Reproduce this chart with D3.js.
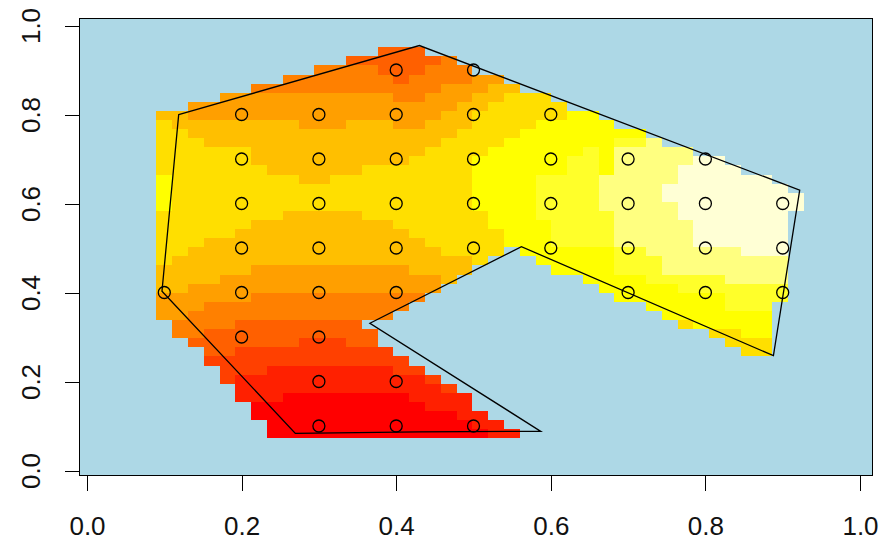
<!DOCTYPE html>
<html>
<head>
<meta charset="utf-8">
<script src="https://cdn.jsdelivr.net/npm/d3@7/dist/d3.min.js"></script>
<style>
  html, body { margin: 0; padding: 0; background: #fff; }
  svg { display: block; }
</style>
</head>
<body>
<div id="chart"></div>
<script>
// interpolated surface, one entry per grid row from the top: [first column, level codes]
// level codes 0..9, a, b index heatColors; "." = cell left out by the mask
const rasterRows = [
  [14, "333"],
  [12, "3333334"],
  [10, "4444333444"],
  [8, "44444443444455"],
  [6, "44444444444455566"],
  [4, "555555555554455566777"],
  [2, "555555555555555556677777"],
  [0, "6655555555555555556677777788"],
  [0, "76666666655566655666777788888"],
  [0, "7766666666666666666777788888888"],
  [0, "7776666666666666667777888888899a"],
  [0, "77777766666666666777788888898aaaaa"],
  [0, "77777766666666667777888888998aaaaabb"],
  [0, "77777776666667777777888888998aaaabbbb"],
  [0, "8777777776677777777788889999aaaaabbbbbb"],
  [0, "8777777777777777777788889999aaaabbbbbbbb"],
  [0, "8777777777777777777788889999aaaabbbbbbbbb"],
  [0, "8777777777777777777788889999aaaaabbbbbbbb"],
  [0, "77777777666667777777788899999aaaabbbbbbb"],
  [0, "77777766666666677777788889999aaaaabbbbbb"],
  [0, "77777666666666667777778889999aaaaabbbbbb"],
  [0, "77766666666666666777778889999aaaaabbbbbb"],
  [0, "7766666666666666667777.88888899aaaaaabbb"],
  [0, "766666666666666666667...88888999aaaaaaaa"],
  [0, "66666655555555556666.....8888999aaaaaaaa"],
  [0, "6666555555555555556........888899999aaaa"],
  [0, "665555555555555555..........888889999999"],
  [0, "55555544444444444............88888889999"],
  [0, "5554444444444444...............88888999"],
  [0, "554444444444444.................8888888"],
  [1, "444433333333....................788888"],
  [1, "4433333333333.....................7788"],
  [2, "333333322233......................777"],
  [3, "332222222222......................77"],
  [3, "2222222222222"],
  [4, "2221111111122"],
  [4, "21111111111112"],
  [5, "11111111111112"],
  [5, "111000000001111"],
  [6, "00000000000111"],
  [6, "000000000000011"],
  [7, "000000000000011"],
  [7, "0000000000000011"]
];
const gridLeft = 0.0899;
const gridTop = 0.951;
const cellSize = 0.02043;

const heatLevels = ["0", "1", "2", "3", "4", "5", "6", "7", "8", "9", "a", "b"];
const heatColors = ["#FF0000", "#FF2000", "#FF4000", "#FF6000", "#FF8000", "#FF9F00",
                    "#FFBF00", "#FFDF00", "#FFFF00", "#FFFF2A", "#FFFF80", "#FFFFD5"];

// study area outline
const boundaryX = [0.1186, 0.43, 0.922, 0.888, 0.562, 0.366, 0.587, 0.43, 0.2695, 0.097];
const boundaryY = [0.7996, 0.955, 0.63, 0.258, 0.503, 0.331, 0.088, 0.087, 0.0835, 0.403];

// sample locations
const pointX = [
  0.4, 0.5,
  0.2, 0.3, 0.4, 0.5, 0.6,
  0.2, 0.3, 0.4, 0.5, 0.6, 0.7, 0.8,
  0.2, 0.3, 0.4, 0.5, 0.6, 0.7, 0.8, 0.9,
  0.2, 0.3, 0.4, 0.5, 0.6, 0.7, 0.8, 0.9,
  0.1, 0.2, 0.3, 0.4, 0.7, 0.8, 0.9,
  0.2, 0.3,
  0.3, 0.4,
  0.3, 0.4, 0.5
];
const pointY = [
  0.9, 0.9,
  0.8, 0.8, 0.8, 0.8, 0.8,
  0.7, 0.7, 0.7, 0.7, 0.7, 0.7, 0.7,
  0.6, 0.6, 0.6, 0.6, 0.6, 0.6, 0.6, 0.6,
  0.5, 0.5, 0.5, 0.5, 0.5, 0.5, 0.5, 0.5,
  0.4, 0.4, 0.4, 0.4, 0.4, 0.4, 0.4,
  0.3, 0.3,
  0.2, 0.2,
  0.1, 0.1, 0.1
];

const tickValues = [0, 0.2, 0.4, 0.6, 0.8, 1.0];
const tickLabels = ["0.0", "0.2", "0.4", "0.6", "0.8", "1.0"];

const width = 891, height = 541;
const frame = { left: 79.5, right: 872.5, top: 18.5, bottom: 475.5 };
const labelFont = "'Liberation Sans', Arial, Helvetica, sans-serif";

const x = d3.scaleLinear().domain([0, 1]).range([87, 860]);
const y = d3.scaleLinear().domain([0, 1]).range([470.5, 25.5]);
const fill = d3.scaleOrdinal().domain(heatLevels).range(heatColors);

const svg = d3.select("#chart")
  .append("svg")
  .attr("width", width)
  .attr("height", height);

// plot region background
svg.append("rect")
  .attr("x", frame.left)
  .attr("y", frame.top)
  .attr("width", frame.right - frame.left)
  .attr("height", frame.bottom - frame.top)
  .attr("fill", "#ADD8E6");

const cells = [];
rasterRows.forEach(([start, codes], r) => {
  codes.split("").forEach((c, i) => {
    if (c === ".") return;
    const x0 = gridLeft + (start + i) * cellSize;
    const yTop = gridTop - r * cellSize;
    cells.push({ x0: x0, x1: x0 + cellSize, y0: yTop - cellSize, y1: yTop, level: c });
  });
});

svg.append("g")
  .attr("shape-rendering", "crispEdges")
  .selectAll("rect")
  .data(cells)
  .join("rect")
  .attr("x", d => Math.round(x(d.x0)))
  .attr("y", d => Math.round(y(d.y1)))
  .attr("width", d => Math.round(x(d.x1)) - Math.round(x(d.x0)))
  .attr("height", d => Math.round(y(d.y0)) - Math.round(y(d.y1)))
  .attr("fill", d => fill(d.level));

const boundary = boundaryX.map((bx, i) => [bx, boundaryY[i]]);
svg.append("path")
  .attr("d", d3.line().x(d => x(d[0])).y(d => y(d[1]))(boundary) + "Z")
  .attr("fill", "none")
  .attr("stroke", "#000")
  .attr("stroke-width", 1.3)
  .attr("stroke-linejoin", "miter");

svg.append("g")
  .selectAll("circle")
  .data(pointX.map((px, i) => [px, pointY[i]]))
  .join("circle")
  .attr("cx", d => x(d[0]))
  .attr("cy", d => y(d[1]))
  .attr("r", 6)
  .attr("fill", "none")
  .attr("stroke", "#000")
  .attr("stroke-width", 1.3);

// axes
const xAxis = svg.append("g")
  .attr("transform", `translate(0,${frame.bottom})`)
  .call(d3.axisBottom(x).tickValues(tickValues).tickFormat((d, i) => tickLabels[i]).tickSize(15))
  .attr("color", "#000")
  .attr("shape-rendering", "crispEdges");
xAxis.select(".domain").remove();
xAxis.selectAll("text")
  .attr("y", 59.5)
  .attr("dy", null)
  .attr("font-family", labelFont)
  .attr("font-size", 26)
  .attr("fill", "#111");

const yAxis = svg.append("g")
  .attr("transform", `translate(${frame.left},0)`)
  .call(d3.axisLeft(y).tickValues(tickValues).tickFormat((d, i) => tickLabels[i]).tickSize(15))
  .attr("color", "#000")
  .attr("shape-rendering", "crispEdges");
yAxis.select(".domain").remove();
yAxis.selectAll("text")
  .attr("x", null)
  .attr("dy", null)
  .attr("text-anchor", "middle")
  .attr("transform", "translate(-39.5,0) rotate(-90)")
  .attr("font-family", labelFont)
  .attr("font-size", 26)
  .attr("fill", "#111");

// box round the plot region
svg.append("rect")
  .attr("x", frame.left)
  .attr("y", frame.top)
  .attr("width", frame.right - frame.left)
  .attr("height", frame.bottom - frame.top)
  .attr("fill", "none")
  .attr("stroke", "#000")
  .attr("stroke-width", 1)
  .attr("shape-rendering", "crispEdges");
</script>
</body>
</html>
